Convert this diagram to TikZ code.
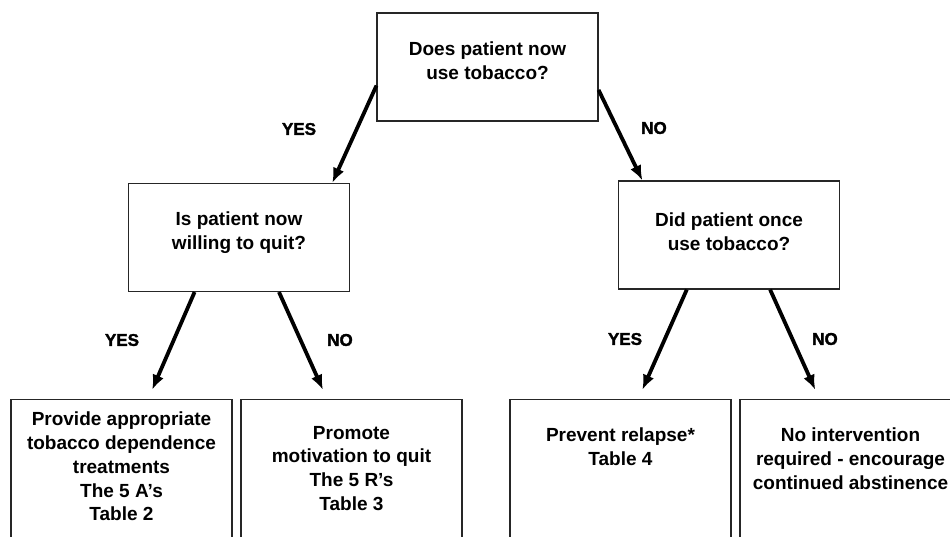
\documentclass[tikz,border=0pt]{standalone}
\usepackage{fontspec}
\setmainfont{Liberation Sans}
\newfontfamily\heavyfont[BoldFeatures={FakeBold=1.8}]{Liberation Sans}
\usepackage{tikz}
\usetikzlibrary{arrows.meta}
\usetikzlibrary{calc}
\usetikzlibrary{positioning}

\begin{document}
\begin{tikzpicture}[
  x=1pt, y=-1pt,
	box/.style={
	draw=black!85,
	line width=1.1pt,
	rectangle,
	minimum width=221pt,
	minimum height=108pt,
	inner sep=0pt},
	openbox/.style={
	box,
	minimum height=170pt},
	txt/.style={
	align=center,
	inner sep=0pt,
	font=\bfseries\fontsize{19}{23.7}\selectfont},
	answer/.style={
	inner sep=0pt,
	font=\heavyfont\bfseries\fontsize{17}{18}\selectfont},
  arrow1/.style={
  -{Latex[length=15pt, width=12pt]},
  line width=3.8pt
  }]

	% Frame
	\useasboundingbox (0,0) rectangle (950,537);
	\clip (0,0) rectangle (950,537);

	% Questions
	\node [box] at (487.5,67)   (uses)   {};
	\node [box] at (239,237.5)  (willing) {};
	\node [box] at (729,235)    (once)   {};

	\node [txt] at ([yshift=6pt]uses.center)    (usestxt)    {Does patient now\\use tobacco?};
	\node [txt] at ([yshift=5pt]willing.center) (willingtxt) {Is patient now\\willing to quit?};
	\node [txt] at ([yshift=3pt]once.center)    (oncetxt)    {Did patient once\\use tobacco?};

	% Actions (cut off by the page)
	\node [openbox, anchor=north] at (121.5,399) (treat)   {};
	\node [openbox, anchor=north] at (351.5,399) (promote) {};
	\node [openbox, anchor=north] at (620.5,399) (relapse) {};
	\node [openbox, anchor=north] at (850.5,399) (none)    {};

	\node [txt, below=13pt of treat.north]   (treattxt)   {Provide appropriate\\tobacco dependence\\treatments\\The 5 A's\\Table 2};
	\node [txt, below=27pt of promote.north] (promotetxt) {Promote\\motivation to quit\\The 5 R's\\Table 3};
	\node [txt, below=29pt of relapse.north] (relapsetxt) {Prevent relapse*\\Table 4};
	\node [txt, below=29pt of none.north]    (nonetxt)    {No intervention\\required - encourage\\continued abstinence};

	% Answers
	\draw[arrow1] ($(uses.north west)!0.67!(uses.south west)$) -- ($(willing.north west)!0.92!(willing.north east)$);
	\draw[arrow1] ($(uses.north east)!0.71!(uses.south east)$) -- ($(once.north west)!0.11!(once.north east)$);

	\draw[arrow1, shorten >=10pt] ($(willing.south west)!0.30!(willing.south east)$) -- ($(treat.north west)!0.62!(treat.north east)$);
	\draw[arrow1, shorten >=10pt] ($(willing.south west)!0.68!(willing.south east)$) -- ($(promote.north west)!0.39!(promote.north east)$);

	\draw[arrow1, shorten >=10pt] ($(once.south west)!0.31!(once.south east)$) -- ($(relapse.north west)!0.58!(relapse.north east)$);
	\draw[arrow1, shorten >=10pt] ($(once.south west)!0.685!(once.south east)$) -- ($(none.north west)!0.36!(none.north east)$);

	\node [answer] at (299,129) (yes1) {YES};
	\node [answer] at (654,128) (no1)  {NO};
	\node [answer] at (122,340) (yes2) {YES};
	\node [answer] at (340,340) (no2)  {NO};
	\node [answer] at (625,339) (yes3) {YES};
	\node [answer] at (825,339) (no3)  {NO};

\end{tikzpicture}
\end{document}
